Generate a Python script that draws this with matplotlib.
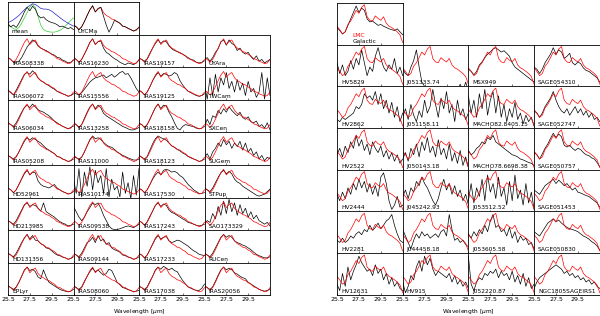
import matplotlib
matplotlib.use("Agg")
import matplotlib.pyplot as plt
import numpy as np

# wavelength sampling (micron)
wave = np.linspace(25.5, 31.5, 25)

# ---------------- left figure (Galactic sample) ----------------
red_gal = [0.35, 0.30, 0.22, 0.30, 0.45, 0.62, 0.78, 0.88, 0.72, 0.80, 0.85, 0.70, 0.62,
           0.58, 0.52, 0.50, 0.44, 0.40, 0.32, 0.30, 0.25, 0.22, 0.18, 0.20, 0.30]

mean_black = [0.38, 0.30, 0.35, 0.28, 0.40, 0.55, 0.72, 0.85, 0.75, 0.88, 0.80, 0.62, 0.55,
              0.58, 0.50, 0.45, 0.42, 0.40, 0.36, 0.30, 0.32, 0.28, 0.25, 0.28, 0.22]
mean_blue = [0.42, 0.45, 0.50, 0.56, 0.62, 0.70, 0.78, 0.85, 0.90, 0.95, 0.93, 0.88, 0.82,
             0.80, 0.80, 0.78, 0.74, 0.68, 0.62, 0.56, 0.50, 0.45, 0.40, 0.36, 0.32]
mean_green = [0.35, 0.30, 0.25, 0.22, 0.28, 0.40, 0.55, 0.70, 0.85, 0.93, 0.85, 0.60, 0.35,
              0.22, 0.18, 0.16, 0.15, 0.15, 0.17, 0.20, 0.25, 0.32, 0.40, 0.48, 0.55]
uycma = [0.35, 0.30, 0.22, 0.30, 0.45, 0.62, 0.78, 0.90, 0.72, 0.82, 0.85, 0.60, 0.35,
         0.15, 0.30, 0.48, 0.45, 0.40, 0.32, 0.30, 0.26, 0.22, 0.18, 0.22, 0.28]

left_names = [
    ["IRAS08338", "IRAS16230", "IRAS19157", "UYAra"],
    ["IRAS06072", "IRAS15556", "IRAS19125", "TWCam"],
    ["IRAS06034", "IRAS13258", "IRAS18158", "SXCen"],
    ["IRAS05208", "IRAS11000", "IRAS18123", "SUGem"],
    ["HD52961", "IRAS10174", "IRAS17530", "STPup"],
    ["HD213985", "IRAS09538", "IRAS17243", "SAO173329"],
    ["HD131356", "IRAS09144", "IRAS17233", "RUCen"],
    ["EPLyr", "IRAS08060", "IRAS17038", "IRAS20056"],
]

left_black = {
    "IRAS08338": [0.35, 0.30, 0.22, 0.22, 0.25, 0.35, 0.50, 0.65, 0.75, 0.85, 0.80, 0.68, 0.62, 0.58, 0.55, 0.50, 0.45, 0.42, 0.36, 0.34, 0.28, 0.25, 0.20, 0.22, 0.28],
    "IRAS16230": [0.35, 0.30, 0.22, 0.30, 0.45, 0.60, 0.78, 0.88, 0.72, 0.80, 0.82, 0.62, 0.50, 0.45, 0.38, 0.32, 0.28, 0.22, 0.18, 0.15, 0.20, 0.18, 0.15, 0.20, 0.28],
    "IRAS19157": [0.33, 0.30, 0.25, 0.32, 0.48, 0.62, 0.75, 0.85, 0.75, 0.82, 0.80, 0.68, 0.60, 0.55, 0.52, 0.48, 0.45, 0.40, 0.35, 0.30, 0.28, 0.22, 0.20, 0.22, 0.26],
    "UYAra": [0.30, 0.35, 0.25, 0.35, 0.50, 0.60, 0.80, 0.85, 0.70, 0.85, 0.75, 0.70, 0.55, 0.62, 0.50, 0.45, 0.50, 0.38, 0.30, 0.40, 0.25, 0.30, 0.20, 0.25, 0.30],
    "IRAS06072": [0.35, 0.28, 0.22, 0.35, 0.50, 0.65, 0.80, 0.85, 0.80, 0.90, 0.82, 0.70, 0.62, 0.58, 0.52, 0.48, 0.42, 0.38, 0.32, 0.28, 0.25, 0.22, 0.18, 0.20, 0.25],
    "IRAS15556": [0.30, 0.25, 0.22, 0.28, 0.38, 0.48, 0.58, 0.65, 0.70, 0.72, 0.75, 0.78, 0.70, 0.75, 0.80, 0.72, 0.78, 0.85, 0.88, 0.80, 0.82, 0.70, 0.55, 0.40, 0.30],
    "IRAS19125": [0.35, 0.30, 0.22, 0.30, 0.45, 0.62, 0.75, 0.85, 0.75, 0.82, 0.80, 0.75, 0.78, 0.85, 0.80, 0.62, 0.50, 0.40, 0.32, 0.28, 0.24, 0.20, 0.18, 0.20, 0.25],
    "TWCam": [0.50, 0.10, 0.70, 0.20, 0.80, 0.30, 0.70, 0.50, 0.85, 0.40, 0.60, 0.30, 0.65, 0.35, 0.55, 0.20, 0.60, 0.30, 0.40, 0.15, 0.30, 0.85, 0.10, 0.70, 0.20],
    "IRAS06034": [0.35, 0.30, 0.25, 0.35, 0.50, 0.65, 0.78, 0.85, 0.78, 0.88, 0.80, 0.72, 0.68, 0.65, 0.60, 0.55, 0.48, 0.40, 0.35, 0.30, 0.25, 0.22, 0.18, 0.22, 0.26],
    "IRAS13258": [0.35, 0.30, 0.22, 0.30, 0.48, 0.65, 0.80, 0.88, 0.75, 0.85, 0.78, 0.62, 0.55, 0.50, 0.45, 0.40, 0.35, 0.30, 0.25, 0.22, 0.18, 0.15, 0.15, 0.18, 0.22],
    "IRAS18158": [0.33, 0.30, 0.22, 0.30, 0.45, 0.62, 0.78, 0.88, 0.75, 0.85, 0.82, 0.65, 0.52, 0.35, 0.20, 0.15, 0.25, 0.30, 0.28, 0.26, 0.24, 0.20, 0.18, 0.20, 0.25],
    "SXCen": [0.25, 0.45, 0.30, 0.55, 0.50, 0.70, 0.60, 0.75, 0.65, 0.80, 0.70, 0.62, 0.55, 0.65, 0.50, 0.45, 0.52, 0.38, 0.35, 0.40, 0.25, 0.30, 0.20, 0.35, 0.15],
    "IRAS05208": [0.35, 0.30, 0.25, 0.32, 0.45, 0.60, 0.75, 0.85, 0.78, 0.85, 0.80, 0.75, 0.70, 0.62, 0.55, 0.50, 0.45, 0.40, 0.32, 0.30, 0.25, 0.22, 0.18, 0.20, 0.25],
    "IRAS11000": [0.33, 0.28, 0.25, 0.30, 0.45, 0.62, 0.80, 0.90, 0.82, 0.85, 0.80, 0.72, 0.65, 0.60, 0.58, 0.52, 0.45, 0.40, 0.35, 0.32, 0.28, 0.25, 0.22, 0.22, 0.25],
    "IRAS18123": [0.35, 0.30, 0.25, 0.32, 0.50, 0.68, 0.82, 0.90, 0.85, 0.82, 0.78, 0.70, 0.62, 0.58, 0.52, 0.48, 0.42, 0.38, 0.32, 0.28, 0.25, 0.22, 0.18, 0.20, 0.25],
    "SUGem": [0.30, 0.40, 0.25, 0.45, 0.55, 0.70, 0.60, 0.80, 0.65, 0.75, 0.55, 0.70, 0.60, 0.75, 0.50, 0.70, 0.45, 0.55, 0.35, 0.45, 0.25, 0.35, 0.20, 0.30, 0.25],
    "HD52961": [0.35, 0.30, 0.22, 0.30, 0.45, 0.60, 0.75, 0.85, 0.72, 0.80, 0.78, 0.55, 0.45, 0.40, 0.38, 0.35, 0.40, 0.45, 0.35, 0.30, 0.25, 0.22, 0.18, 0.20, 0.25],
    "IRAS10174": [0.60, 0.20, 0.90, 0.10, 0.80, 0.40, 0.95, 0.30, 0.85, 0.50, 0.70, 0.20, 0.90, 0.10, 0.60, 0.30, 0.40, 0.10, 0.80, 0.20, 0.50, 0.05, 0.70, 0.15, 0.90],
    "IRAS17530": [0.33, 0.30, 0.22, 0.30, 0.45, 0.60, 0.72, 0.80, 0.72, 0.85, 0.88, 0.85, 0.80, 0.82, 0.78, 0.70, 0.65, 0.55, 0.45, 0.38, 0.30, 0.25, 0.20, 0.20, 0.22],
    "STPup": [0.35, 0.30, 0.25, 0.35, 0.50, 0.65, 0.78, 0.85, 0.75, 0.82, 0.75, 0.60, 0.52, 0.48, 0.40, 0.35, 0.30, 0.25, 0.20, 0.15, 0.12, 0.15, 0.18, 0.25, 0.32],
    "HD213985": [0.35, 0.30, 0.25, 0.35, 0.50, 0.65, 0.80, 0.85, 0.75, 0.80, 0.78, 0.70, 0.62, 0.85, 0.60, 0.55, 0.50, 0.45, 0.38, 0.32, 0.28, 0.25, 0.20, 0.22, 0.25],
    "IRAS09538": [0.75, 0.60, 0.45, 0.35, 0.45, 0.60, 0.72, 0.85, 0.80, 0.85, 0.70, 0.50, 0.35, 0.20, 0.12, 0.10, 0.10, 0.12, 0.15, 0.18, 0.20, 0.18, 0.15, 0.20, 0.25],
    "IRAS17243": [0.35, 0.30, 0.22, 0.32, 0.48, 0.62, 0.78, 0.85, 0.75, 0.82, 0.78, 0.65, 0.58, 0.55, 0.50, 0.45, 0.40, 0.36, 0.30, 0.28, 0.25, 0.22, 0.20, 0.22, 0.25],
    "SAO173329": [0.25, 0.35, 0.30, 0.55, 0.40, 0.75, 0.50, 0.90, 0.55, 0.95, 0.60, 0.85, 0.50, 0.80, 0.55, 0.70, 0.45, 0.60, 0.40, 0.50, 0.35, 0.30, 0.25, 0.30, 0.20],
    "HD131356": [0.35, 0.30, 0.25, 0.35, 0.50, 0.65, 0.78, 0.88, 0.75, 0.85, 0.72, 0.70, 0.62, 0.58, 0.50, 0.48, 0.42, 0.35, 0.30, 0.28, 0.24, 0.22, 0.18, 0.20, 0.25],
    "IRAS09144": [0.35, 0.30, 0.25, 0.35, 0.50, 0.65, 0.70, 0.80, 0.65, 0.85, 0.70, 0.75, 0.60, 0.65, 0.50, 0.45, 0.42, 0.38, 0.30, 0.28, 0.24, 0.22, 0.18, 0.20, 0.25],
    "IRAS17233": [0.33, 0.30, 0.22, 0.30, 0.45, 0.60, 0.75, 0.85, 0.75, 0.80, 0.82, 0.70, 0.65, 0.68, 0.72, 0.70, 0.65, 0.60, 0.55, 0.48, 0.42, 0.38, 0.32, 0.30, 0.28],
    "RUCen": [0.35, 0.30, 0.25, 0.35, 0.50, 0.65, 0.80, 0.88, 0.80, 0.85, 0.80, 0.70, 0.65, 0.62, 0.58, 0.55, 0.50, 0.45, 0.38, 0.32, 0.28, 0.25, 0.22, 0.22, 0.25],
    "EPLyr": [0.35, 0.30, 0.25, 0.32, 0.45, 0.62, 0.80, 0.88, 0.78, 0.82, 0.75, 0.60, 0.55, 0.80, 0.60, 0.45, 0.40, 0.35, 0.30, 0.25, 0.22, 0.20, 0.18, 0.20, 0.25],
    "IRAS08060": [0.35, 0.30, 0.25, 0.32, 0.48, 0.62, 0.75, 0.85, 0.75, 0.80, 0.72, 0.65, 0.70, 0.82, 0.78, 0.62, 0.45, 0.38, 0.30, 0.28, 0.24, 0.22, 0.18, 0.20, 0.22],
    "IRAS17038": [0.33, 0.30, 0.25, 0.32, 0.48, 0.62, 0.80, 0.88, 0.82, 0.90, 0.85, 0.80, 0.85, 0.78, 0.75, 0.62, 0.50, 0.40, 0.32, 0.28, 0.25, 0.22, 0.22, 0.28, 0.40],
    "IRAS20056": [0.35, 0.30, 0.25, 0.32, 0.48, 0.65, 0.80, 0.88, 0.80, 0.85, 0.80, 0.72, 0.68, 0.62, 0.58, 0.55, 0.45, 0.40, 0.35, 0.30, 0.25, 0.22, 0.20, 0.22, 0.25],
}

# ---------------- right figure (LMC sample) ----------------
red_lmc = [0.48, 0.40, 0.30, 0.35, 0.52, 0.60, 0.72, 0.85, 0.78, 0.92, 0.98, 0.70, 0.62,
           0.60, 0.72, 0.66, 0.62, 0.70, 0.55, 0.48, 0.45, 0.40, 0.35, 0.28, 0.10]
galactic_mean = [0.45, 0.38, 0.30, 0.35, 0.50, 0.65, 0.80, 0.95, 0.80, 0.90, 0.85, 0.65, 0.58,
                 0.60, 0.55, 0.50, 0.52, 0.48, 0.45, 0.42, 0.40, 0.38, 0.42, 0.35, 0.28]

right_names = [
    ["HV5829", "J051333.74", "MSX949", "SAGE054310"],
    ["HV2862", "J051158.11", "MACHO82.8405.15", "SAGE052747"],
    ["HV2522", "J050143.18", "MACHO78.6698.38", "SAGE050757"],
    ["HV2444", "J045242.93", "J053512.52", "SAGE051453"],
    ["HV2281", "J044458.18", "J053605.58", "SAGE050830"],
    ["HV12631", "HV915", "J052220.87", "NGC1805SAGEIRS1"],
]

right_black = {
    "HV5829": [0.60, 0.35, 0.55, 0.30, 0.40, 0.65, 0.45, 0.70, 0.55, 0.90, 0.60, 0.30, 0.50, 0.40, 0.75, 0.95, 0.70, 0.50, 0.40, 0.55, 0.45, 0.70, 0.35, 0.50, 0.30],
    "J051333.74": [0.45, 0.35, 0.30, 0.50, 0.65, 0.90, 0.50, 0.15, 0.05, -0.05, -0.10, -0.10, -0.10, -0.10, -0.10, -0.10, -0.10, -0.10, -0.10, -0.10, -0.05, 0.10, -0.05, 0.15, -0.05],
    "MSX949": [0.45, 0.40, 0.32, 0.40, 0.55, 0.62, 0.72, 0.80, 0.85, 0.92, 0.95, 0.90, 0.85, 0.88, 0.82, 0.75, 0.60, 0.50, 0.45, 0.40, 0.35, 0.30, 0.25, 0.20, 0.15],
    "SAGE054310": [0.50, 0.45, 0.35, 0.45, 0.60, 0.70, 0.80, 0.95, 0.80, 0.90, 0.85, 0.70, 0.75, 0.82, 0.60, 0.55, 0.62, 0.58, 0.48, 0.42, 0.40, 0.35, 0.30, 0.25, 0.15],
    "HV2862": [0.25, 0.20, 0.30, 0.25, 0.30, 0.35, 0.40, 0.55, 0.50, 0.60, 0.85, 0.75, 0.80, 0.70, 0.90, 0.60, 0.85, 0.50, 0.70, 0.40, 0.65, 0.30, 0.55, 0.20, 0.40],
    "J051158.11": [0.30, 0.50, 0.25, 0.60, 0.35, 0.20, 0.45, 0.30, 0.70, 0.40, 0.55, 0.95, 0.60, 0.30, 0.75, 0.50, 0.90, 0.40, 0.60, 0.20, 0.70, 0.35, 0.50, 0.25, 0.40],
    "MACHO82.8405.15": [0.80, 0.40, 0.70, 0.30, 0.85, 0.50, 0.95, 0.35, 0.70, 0.90, 0.40, 0.80, 0.30, 0.60, 0.20, 0.50, 0.30, 0.65, 0.25, 0.40, 0.15, 0.35, 0.20, 0.30, 0.10],
    "SAGE052747": [0.45, 0.40, 0.30, 0.40, 0.55, 0.65, 0.75, 0.90, 0.70, 0.55, 0.45, 0.40, 0.50, 0.35, 0.45, 0.55, 0.40, 0.50, 0.35, 0.45, 0.30, 0.40, 0.25, 0.30, 0.20],
    "HV2522": [0.40, 0.55, 0.35, 0.60, 0.45, 0.70, 0.55, 0.85, 0.60, 0.75, 0.50, 0.65, 0.40, 0.70, 0.55, 0.45, 0.60, 0.35, 0.50, 0.30, 0.45, 0.25, 0.40, 0.20, 0.30],
    "J050143.18": [0.30, 0.45, 0.25, 0.55, 0.40, 0.65, 0.35, 0.70, 0.50, 0.80, 0.45, 0.60, 0.35, 0.75, 0.40, 0.55, 0.30, 0.65, 0.25, 0.45, 0.20, 0.50, 0.15, 0.35, 0.10],
    "MACHO78.6698.38": [0.50, 0.40, 0.45, 0.55, 0.60, 0.70, 0.65, 0.80, 0.75, 0.85, 0.70, 0.65, 0.60, 0.55, 0.50, 0.45, 0.40, 0.38, 0.35, 0.30, 0.28, 0.25, 0.22, 0.20, 0.15],
    "SAGE050757": [0.45, 0.40, 0.30, 0.42, 0.55, 0.65, 0.78, 0.90, 0.80, 0.88, 0.82, 0.62, 0.58, 0.62, 0.55, 0.50, 0.55, 0.52, 0.45, 0.40, 0.38, 0.33, 0.30, 0.22, 0.12],
    "HV2444": [0.45, 0.30, 0.50, 0.35, 0.60, 0.45, 0.70, 0.55, 0.80, 0.60, 0.75, 0.50, 0.70, 0.45, 0.65, 0.40, 0.85, 0.95, 0.70, 0.30, 0.10, 0.20, 0.40, 0.15, 0.20],
    "J045242.93": [0.40, 0.55, 0.35, 0.60, 0.50, 0.75, 0.65, 0.85, 0.70, 0.60, 0.45, 0.30, 0.20, 0.35, 0.60, 0.80, 0.55, 0.70, 0.45, 0.65, 0.40, 0.55, 0.30, 0.45, 0.20],
    "J053512.52": [0.30, 0.70, 0.25, 0.60, 0.40, 0.80, 0.30, 0.90, 0.50, 0.70, 0.35, 0.85, 0.40, 0.60, 0.20, 0.75, 0.30, 0.90, 0.35, 0.55, 0.20, 0.70, 0.25, 0.50, 0.10],
    "SAGE051453": [0.55, 0.50, 0.45, 0.55, 0.65, 0.70, 0.75, 0.80, 0.70, 0.78, 0.72, 0.65, 0.70, 0.62, 0.55, 0.60, 0.50, 0.48, 0.45, 0.42, 0.40, 0.35, 0.30, 0.25, 0.15],
    "HV2281": [0.35, 0.30, 0.40, 0.30, 0.35, 0.45, 0.40, 0.50, 0.55, 0.48, 0.60, 0.55, 0.70, 0.58, 0.65, 0.75, 0.62, 0.70, 0.80, 0.85, 0.95, 0.70, 0.50, 0.35, 0.30],
    "J044458.18": [0.60, 0.45, 0.30, 0.15, 0.35, 0.50, 0.40, 0.55, 0.45, 0.50, 0.40, 0.45, 0.50, 0.42, 0.55, 0.60, 0.45, 0.95, 0.60, 0.35, 0.40, 0.30, 0.35, 0.25, 0.20],
    "J053605.58": [0.50, 0.40, 0.55, 0.45, 0.60, 0.50, 0.70, 0.55, 0.80, 0.95, 0.65, 0.70, 0.55, 0.60, 0.45, 0.65, 0.40, 0.55, 0.30, 0.45, 0.35, 0.40, 0.25, 0.30, 0.15],
    "SAGE050830": [0.55, 0.50, 0.45, 0.55, 0.65, 0.75, 0.80, 0.85, 0.78, 0.82, 0.75, 0.70, 0.65, 0.62, 0.60, 0.58, 0.55, 0.50, 0.45, 0.42, 0.38, 0.32, 0.28, 0.22, 0.12],
    "HV12631": [0.30, 0.15, 0.55, 0.25, 0.70, 0.40, 0.60, 0.75, 0.95, 0.80, 0.70, 0.60, 0.65, 0.50, 0.75, 0.55, 0.65, 0.40, 0.55, 0.30, 0.45, 0.25, 0.35, 0.20, 0.15],
    "HV915": [0.35, 0.10, 0.25, 0.50, 0.40, 0.70, 0.85, 0.60, 0.95, 0.75, 0.90, 0.65, 0.50, 0.60, 0.55, 0.50, 0.45, 0.55, 0.35, 0.50, 0.30, 0.40, 0.25, 0.35, 0.20],
    "J052220.87": [0.95, 0.30, 0.15, 0.35, 0.45, 0.40, 0.55, 0.50, 0.60, 0.55, 0.65, 0.45, 0.60, 0.50, 0.55, 0.40, 0.60, 0.35, 0.50, 0.30, 0.55, 0.25, 0.45, 0.20, 0.30],
    "NGC1805SAGEIRS1": [0.20, 0.35, 0.45, 0.50, 0.55, 0.60, 0.65, 0.70, 0.75, 0.70, 0.65, 0.55, 0.60, 0.50, 0.55, 0.45, 0.50, 0.40, 0.45, 0.35, 0.40, 0.30, 0.35, 0.25, 0.20],
}

W, H = 600, 316
fig = plt.figure(figsize=(6.0, 3.16), dpi=100)
lw = 0.5


def panel(x0, y0, w, h, ylim, bottom=False):
    # pixel box -> figure fraction
    ax = fig.add_axes([x0 / W, 1 - (y0 + h) / H, w / W, h / H])
    ax.set_xlim(25.5, 31.5)
    ax.set_ylim(*ylim)
    ax.set_yticks([])
    ax.set_xticks([25.5, 27.5, 29.5])
    ax.tick_params(axis="x", direction="in", length=1.5, width=0.4, labelsize=4.5, pad=1.5)
    if not bottom:
        ax.set_xticklabels([])
    for s in ax.spines.values():
        s.set_linewidth(0.6)
    return ax


def label(ax, txt):
    ax.text(0.06, 0.03, txt, transform=ax.transAxes, fontsize=4.2, ha="left", va="bottom")


# left grid
lx0, lw_, ly0, lh = 8, 65.5, 2, 32.6
ylim_l = (0.08, 1.0)

ax = panel(lx0, ly0, lw_, lh, ylim_l)
ax.plot(wave, mean_green, color="#33cc33", lw=lw)
ax.plot(wave, mean_blue, color="#2222cc", lw=lw)
ax.plot(wave, mean_black, color="k", lw=lw)
label(ax, "mean")

ax = panel(lx0 + lw_, ly0, lw_, lh, ylim_l)
ax.plot(wave, red_gal, color="red", lw=lw)
ax.plot(wave, uycma, color="k", lw=lw)
label(ax, "UYCMa")

for r, row in enumerate(left_names):
    for c, name in enumerate(row):
        ax = panel(lx0 + c * lw_, ly0 + (r + 1) * lh, lw_, lh, ylim_l, bottom=(r == len(left_names) - 1))
        ax.plot(wave, left_black[name], color="k", lw=lw)
        ax.plot(wave, red_gal, color="red", lw=lw)
        label(ax, name)

# right grid
rx0, rw, ry0, rh = 337, 65.7, 3, 41.7
ylim_r = (0.05, 1.02)

ax = panel(rx0, ry0, rw, rh, ylim_r)
ax.plot(wave, galactic_mean, color="k", lw=lw)
ax.plot(wave, red_lmc, color="red", lw=lw)
ax.text(0.24, 0.22, "LMC", color="red", transform=ax.transAxes, fontsize=4.2, va="center")
ax.text(0.24, 0.08, "Galactic", color="k", transform=ax.transAxes, fontsize=4.2, va="center")

for r, row in enumerate(right_names):
    for c, name in enumerate(row):
        ax = panel(rx0 + c * rw, ry0 + (r + 1) * rh, rw, rh, ylim_r, bottom=(r == len(right_names) - 1))
        ax.plot(wave, right_black[name], color="k", lw=lw)
        ax.plot(wave, red_lmc, color="red", lw=lw)
        label(ax, name)

fig.text((lx0 + 2 * lw_) / W, 1 - 312 / H, "Wavelength [$\\mu$m]", fontsize=4.2, ha="center", va="center")
fig.text((rx0 + 2 * rw) / W, 1 - 312 / H, "Wavelength [$\\mu$m]", fontsize=4.2, ha="center", va="center")

fig.savefig("out.png", dpi=100)
